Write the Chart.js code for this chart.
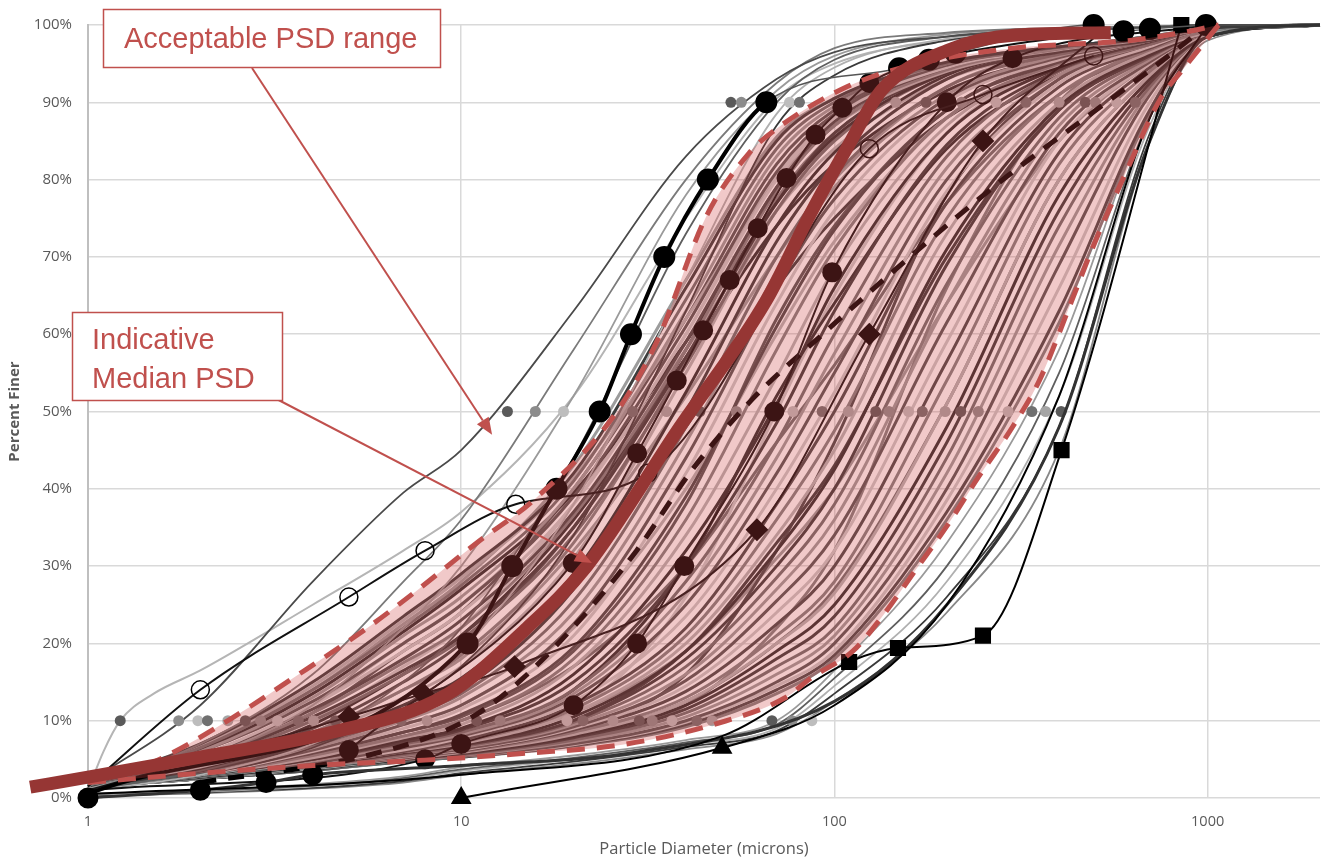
<!DOCTYPE html>
<html>
<head>
<meta charset="utf-8">
<title>Particle size distribution</title>
<script src="https://cdn.jsdelivr.net/npm/chart.js"></script>
<style>
  html, body { margin: 0; padding: 0; background: #fff; }
  canvas { display: block; }
</style>
</head>
<body>
<canvas id="psdChart" width="1325" height="861"></canvas>
<script>
// sieve sizes (microns) shared by the plain grey curves
const sizes = [1, 2, 4, 7, 10, 20, 40, 70, 100, 200, 400, 700, 1000, 2000];
const xTicks = [1, 10, 100, 1000];

// finer samples, left of the acceptable range
const leftCurves = [
  [2, 12, 28, 39.5, 45, 63, 83, 93, 96.5, 98.5, 99.3, 99.7, 100, 100],
  [1.5, 7, 16, 28, 36, 58, 80, 92.5, 97, 99, 99.6, 99.8, 100, 100],
  [1.2, 5, 12, 22, 30, 52, 78, 91.5, 96, 98.8, 99.5, 99.8, 100, 100],
  [1, 3.5, 8, 15, 22, 44, 73, 90, 95.5, 98.5, 99.5, 99.8, 100, 100],
  [1, 3, 7, 13, 19, 38, 67, 88.5, 94.5, 98.2, 99.3, 99.7, 100, 100],
  [1, 3, 6.5, 12, 17, 34, 63, 87, 93.5, 98, 99.2, 99.7, 100, 100]
];
const lightCurveX = [1, 1.1, 1.22, 1.5, 2, 4, 7, 10, 20, 40, 70, 100, 200, 1000];
const lightCurveY = [1, 6, 10, 13.5, 16.5, 25, 32, 37, 52, 75, 90.5, 95, 98, 100];

// samples inside the acceptable range
const bandCurves = [
  [2, 7, 15, 23.5, 29, 42, 66, 85, 90.5, 95.2, 97.2, 98.3, 99.6, 100],
  [2, 6.5, 14, 22, 27.5, 41, 64.5, 84, 90, 95, 97.1, 98.3, 99.6, 100],
  [2, 6, 13, 21, 26, 40, 63, 83, 89.5, 95, 97, 98.3, 99.5, 100],
  [2, 6, 12.5, 20, 25, 39, 61, 81, 88.5, 94.8, 97, 98.3, 99.5, 100],
  [2, 5.5, 12, 19, 24, 38, 60, 80, 88, 94.5, 97, 98.3, 99.5, 100],
  [1.8, 5.5, 11.5, 18, 23, 37, 59, 79, 87.5, 94.5, 97, 98.3, 99.5, 100],
  [1.8, 5.2, 11, 17.5, 22, 36.5, 58, 78.5, 87, 94.2, 96.9, 98.3, 99.5, 100],
  [2, 6.8, 14.5, 23, 28.5, 41.5, 62, 80, 87, 94, 96.8, 98.2, 99.5, 100],
  [2, 6.2, 13.5, 21.5, 27, 39.5, 59, 77, 85.5, 93.8, 96.8, 98.2, 99.5, 100],
  [1.8, 5, 10.5, 16.5, 21, 35, 57, 77, 86, 94, 96.8, 98.2, 99.5, 100],
  [1.8, 4.8, 10, 16, 20.5, 34, 56, 76, 85, 93.8, 96.8, 98.2, 99.5, 100],
  [2, 6.5, 14, 22.5, 28, 43, 67, 85.5, 90.5, 95.2, 97.2, 98.3, 99.6, 100],
  [2, 5, 11, 19, 24, 40, 62, 82, 89, 95, 97, 98.5, 99.5, 100],
  [1.8, 4.8, 10, 17, 22, 38, 60, 80.5, 88, 94.8, 97, 98.5, 99.5, 100],
  [2, 4.5, 9, 15, 20, 35, 58, 79, 87, 94.5, 97, 98.5, 99.5, 100],
  [1.7, 4.2, 8.5, 14, 18.5, 33, 56.5, 77.5, 86, 94.2, 97, 98.5, 99.5, 100],
  [1.8, 4, 8, 13, 17, 31, 55, 76, 85, 94, 97, 98.5, 99.5, 100],
  [1.6, 3.8, 7.5, 12, 15.5, 29, 52.5, 74, 83.5, 93.5, 96.8, 98.2, 99.5, 100],
  [1.5, 3.5, 7, 11, 14, 27, 50, 72, 82, 93, 96.5, 98, 99.5, 100],
  [1.5, 3.5, 6.8, 10.5, 13.5, 25.5, 48, 70, 80.5, 92, 96.2, 98, 99.5, 100],
  [1.5, 3.5, 6.5, 10, 13, 24, 46, 68, 79, 91, 96, 98, 99.5, 100],
  [1.5, 3.2, 6.2, 9.5, 12, 22.5, 44, 66, 77.5, 90.5, 95.8, 98, 99.5, 100],
  [1.5, 3, 6, 9, 11.5, 21, 42, 64, 76, 90, 95.5, 98, 99.5, 100],
  [1.5, 3, 5.8, 8.5, 10.8, 19.5, 39, 61, 73.5, 89, 95.2, 98, 99.5, 100],
  [1.5, 3, 5.5, 8, 10, 18, 36, 58, 71, 88, 95, 98, 99.5, 100],
  [1.5, 3, 5.2, 7.8, 9.5, 17, 34, 54.5, 68.5, 87, 94.8, 98, 99.5, 100],
  [1.5, 3, 5, 7.5, 9, 16, 32, 51, 66, 86, 94.5, 98, 99.5, 100],
  [1.5, 2.9, 5, 7.2, 8.8, 15, 30, 48.5, 63, 84.5, 94.2, 97.8, 99.5, 100],
  [1.5, 3, 5, 7, 8.5, 14, 28, 46, 60, 83, 94, 97.5, 99.5, 100],
  [1.5, 2.9, 4.8, 6.8, 8.2, 13.5, 26.5, 44, 57.5, 81.5, 93.5, 97.5, 99.5, 100],
  [1.5, 2.8, 4.5, 6.5, 8, 13, 25, 42, 55, 80, 93, 97.5, 99.5, 100],
  [1.5, 2.8, 4.5, 6.2, 7.8, 12.5, 23.5, 40, 52.5, 78.5, 92.5, 97.2, 99.5, 100],
  [1.5, 2.8, 4.5, 6, 7.5, 12, 22, 38, 50, 77, 92, 97, 99.5, 100],
  [1.5, 2.8, 4.4, 6, 7.2, 11.5, 21, 36, 47.5, 75, 91, 96.8, 99.2, 100],
  [1.5, 2.8, 4.3, 6, 7, 11, 20, 34, 45, 73, 90, 96.5, 99, 100],
  [1.5, 2.7, 4.2, 5.9, 6.9, 10.5, 19, 32, 42.5, 71, 89.5, 96.2, 99, 100],
  [1.5, 2.7, 4.2, 5.8, 6.8, 10, 18, 30, 40, 69, 89, 96, 99, 100],
  [1.5, 2.7, 4.1, 5.6, 6.6, 9.8, 17, 28.5, 38, 66.5, 88, 95.8, 99, 100],
  [1.5, 2.7, 4, 5.5, 6.5, 9.5, 16, 27, 36, 64, 87, 95.5, 99, 100],
  [1.5, 2.6, 4, 5.4, 6.3, 9.2, 15.2, 25.5, 34, 61.5, 86, 95.2, 99, 100],
  [1.5, 2.6, 4, 5.3, 6.2, 9, 14.5, 24, 32, 59, 85, 95, 99, 100],
  [1.5, 2.6, 3.9, 5.2, 6.1, 8.8, 13.8, 22.5, 30, 56.5, 83.5, 94.5, 99, 100],
  [1.5, 2.6, 3.9, 5.2, 6, 8.5, 13, 21, 28, 54, 82, 94, 99, 100],
  [1.5, 2.5, 3.8, 5.1, 5.9, 8.2, 12.5, 20, 26.5, 51, 80, 93.5, 98.8, 100],
  [1.5, 2.5, 3.8, 5, 5.8, 8, 12, 19, 25, 48, 78, 93, 98.5, 100],
  [1.5, 2.5, 3.7, 5, 5.7, 7.8, 11.5, 18, 23.5, 46, 76, 92.5, 98.5, 100],
  [1.5, 2.5, 3.7, 4.9, 5.6, 7.5, 11, 17, 22, 44, 74, 92, 98.5, 100],
  [1.5, 2.5, 3.7, 4.9, 5.5, 7.3, 10.5, 16, 21, 42, 71.5, 91.5, 98.5, 100],
  [1.5, 2.5, 3.6, 4.8, 5.4, 7, 10, 15, 20, 40, 69, 91, 98.5, 100],
  [1.5, 2.5, 3.6, 4.8, 5.4, 6.9, 9.8, 14.5, 19, 38.5, 66, 90, 98.5, 100],
  [1.5, 2.5, 3.6, 4.7, 5.3, 6.8, 9.5, 14, 18.5, 37, 63, 89, 98.5, 100],
  [1.5, 2.5, 3.6, 4.8, 5.3, 6.7, 9.2, 13.5, 18, 36, 61.5, 88.5, 98.5, 100],
  [1.5, 3.2, 6, 9.5, 12, 22, 40, 60, 72, 88, 95, 98, 99.5, 100],
  [1.5, 2.8, 4.8, 6.8, 8.2, 14, 30, 52, 64, 84, 93.5, 97.5, 99.5, 100],
  [1.5, 2.6, 4.2, 5.6, 6.6, 10, 19, 33, 43, 70, 89, 96, 99, 100],
  [1.5, 2.5, 3.8, 5.1, 5.9, 8.2, 12.5, 20, 27, 51, 80, 93.5, 99, 100],
  [1.8, 4.2, 8.5, 14, 18, 32, 52, 70, 80, 92, 96.5, 98.5, 99.5, 100],
  [1.6, 3.2, 5.8, 8.5, 10.5, 19, 38, 62, 74, 89, 95.5, 98, 99.5, 100],
  [1.5, 2.6, 4, 5.5, 6.5, 11, 26, 50, 65, 86, 95, 98, 99.5, 100],
  [1.5, 2.5, 3.8, 5, 5.8, 8.5, 16, 32, 46, 78, 93, 97.5, 99.5, 100],
  [1.5, 2.5, 3.7, 4.9, 5.5, 7.5, 12, 22, 32, 66, 90, 97, 99.5, 100],
  [2, 5.5, 12, 20, 25, 39, 58, 76, 84, 93, 96.5, 98.5, 99.5, 100],
  [1.8, 4.5, 9.5, 16, 21, 36, 57, 74, 82, 91.5, 96, 98.5, 99.5, 100],
  [1.6, 3.6, 7, 11.5, 15, 28, 48, 66, 75, 88, 94.5, 97.8, 99.5, 100],
  [1.5, 3, 5.5, 8, 10, 17, 30, 46, 56, 77, 91, 96.5, 99.2, 100],
  [1.5, 2.7, 4.3, 6, 7, 11, 19, 31, 40, 64, 85, 95, 99, 100]
];

// coarser samples, right of the acceptable range
const rightCurves = [
  [0.5, 1, 1.8, 2.8, 4, 5.5, 7.5, 10, 16.5, 33, 58, 89, 99, 100],
  [0.5, 0.9, 1.6, 2.6, 3.7, 5.2, 7.2, 9.5, 15.5, 30, 55, 88, 99, 100],
  [0.4, 0.8, 1.5, 2.4, 3.5, 5, 6.9, 9, 14.5, 28, 52, 87, 98.5, 100],
  [0.3, 0.7, 1.3, 2.2, 3.2, 4.7, 6.6, 8.7, 13.5, 26, 48, 86, 98.5, 100],
  [0.3, 0.6, 1.2, 2, 3, 4.4, 6.3, 8.3, 12.5, 24, 45, 85, 98, 100]
];

// acceptable range limits and indicative median
const upperX = [1, 1.3, 1.6, 2.46, 3.49, 5.6, 7.45, 11, 15.6, 25.5, 33.4, 45.3, 59, 71, 108, 161, 300, 620, 850, 1070];
const upperY = [2, 3.5, 5.3, 10.5, 15.3, 22, 26.5, 33, 38.5, 49.3, 59, 75.2, 83.4, 86.8, 92, 94.8, 97, 98, 99, 100];
const lowerX = [1, 2, 4, 8, 15, 27, 49, 74, 87, 112, 132, 165, 199, 243, 300, 354, 433, 490, 605, 750, 850, 1070];
const lowerY = [2, 3.2, 4.2, 4.9, 5.8, 6.9, 9.7, 13, 15.6, 19, 23, 29.5, 35, 41.5, 48, 54, 64.4, 71, 81, 90.6, 94, 100];
const medianX = [0.7, 1, 2, 4.5, 9.1, 15, 21.7, 37.9, 65.7, 85, 109, 134, 203, 306, 550];
const medianY = [1.4, 2.7, 5.3, 8.5, 13.3, 22, 30, 47.5, 64.4, 75, 84.4, 91.6, 96.8, 98.7, 99];

// samples drawn with markers
const boldX = [1, 10.4, 13.7, 18, 23.5, 28.5, 35, 45.8, 65.7, 149, 179, 211, 495, 595, 700, 990];
const boldY = [0.5, 20, 30, 40, 50, 60, 70, 80, 90, 94.4, 95.5, 96.4, 100, 99.2, 99.5, 100];
const baseX = [1, 2, 3, 4, 10, 30, 100, 200, 400, 700, 1000, 2000];
const baseY = [0, 1, 2, 3, 4.2, 6, 12.5, 25, 48, 85, 98.5, 100];
const openX = [1, 2, 5, 8, 14, 31.6, 124, 250, 495];
const openY = [1.5, 14, 26, 32, 38, 42, 84, 91, 96];
const squareX = [1, 10, 50, 109.5, 148, 250, 406, 850];
const squareY = [0.5, 3, 8, 17.6, 19.4, 21, 45, 100];
const triangleX = [10, 50, 100, 200, 400, 700, 1000];
const triangleY = [0, 6.5, 12, 25, 52, 88, 100];
const diamondX = [1, 5, 7.9, 13.9, 62, 124, 250, 500];
const diamondY = [1, 10.5, 13.5, 17, 34.7, 60, 85, 98.5];
const dotAX = [5, 19.9, 29.6, 37.8, 44.5, 52.4, 62.3, 74.4, 89, 105, 124, 200, 300, 500];
const dotAY = [6.2, 30.4, 44.6, 54, 60.5, 67, 73.7, 80.2, 85.8, 89.3, 92.5, 96, 97.5, 99];
const dotBX = [1, 8, 10, 20, 29.6, 39.6, 69, 98.6, 200, 300, 1000];
const dotBY = [1, 5, 7, 12, 20, 30, 50, 68, 90, 95.7, 100];
const dashX = [2, 5.7, 10.1, 13.5, 20.4, 29.5, 41.5, 60, 93, 176, 288, 450, 720, 1000];
const dashY = [2, 5.6, 9.8, 14, 22.6, 32, 42.4, 51.5, 60, 71.8, 80.3, 87.3, 94.6, 100];

// D10 / D50 / D90 sizes of every sample
const d10 = [1.22, 1.75, 1.97, 2.09, 2.37, 2.64, 2.9, 3.22, 3.66, 4.02, 4.6, 4.96, 5.7, 6.9, 8.1, 11, 12.7, 19.2, 21.2, 25.5, 30, 32.5, 36.7, 42.8, 47, 68, 77, 87];
const d50 = [13.3, 15.8, 18.8, 28.8, 35.5, 43.6, 54.6, 77.4, 92.7, 109, 129, 140, 158, 172, 198, 218, 243, 292, 338, 368, 405];
const d90 = [52.8, 56.3, 75.8, 80.6, 146, 176, 219, 271, 326, 400, 470, 500, 570, 640];

// annotation arrow tips (x microns, y %)
const rangeTip = [12.1, 47];
const medianTip = [22.4, 30.4];

const greys = ['#4a4a4a', '#7a7a7a', '#9a9a9a', '#5e5e5e', '#b0b0b0', '#3a3a3a', '#888888'];
const bandGreys = ['#3c3c3c', '#6e6e6e', '#9c9c9c', '#555555', '#c8c8c8', '#484848', '#808080', '#b4b4b4', '#2e2e2e'];
const dotGreys = ['#5a5a5a', '#8c8c8c', '#bdbdbd', '#707070', '#a5a5a5'];

function pts(xs, ys) {
  return xs.map((x, i) => ({ x: x, y: ys[i] }));
}

function line(data, opts) {
  return Object.assign({
    data: data,
    borderColor: '#777',
    borderWidth: 1.5,
    pointRadius: 0,
    cubicInterpolationMode: 'monotone',
    fill: false,
    clip: false
  }, opts);
}

function dots(xs, level) {
  return {
    data: xs.map(x => ({ x: x, y: level })),
    showLine: false,
    pointRadius: 5.5,
    pointBorderWidth: 0,
    pointBackgroundColor: xs.map((x, i) => dotGreys[i % dotGreys.length]),
    clip: false
  };
}

const datasets = [
  line(pts(medianX, medianY), { borderColor: '#963634', borderWidth: 13, borderCapStyle: 'butt' }),
  line(pts(upperX, upperY), { borderColor: '#c0504d', borderWidth: 5, borderDash: [18, 12] }),
  line(pts(lowerX, lowerY), { borderColor: '#c0504d', borderWidth: 5, borderDash: [18, 12],
    fill: '-1', backgroundColor: 'rgba(207,69,69,0.29)' }),
  line(pts(boldX, boldY), {
    borderColor: '#000', borderWidth: 4,
    segment: { borderWidth: c => (c.p0.parsed.x >= 65 ? 1.5 : 4), borderColor: c => (c.p0.parsed.x >= 65 ? '#555' : '#000') },
    pointRadius: boldX.map((x, i) => (i === 0 ? 0 : 9)), pointBackgroundColor: '#000', pointBorderColor: '#000'
  }),
  line(pts(openX, openY), {
    borderColor: '#111', borderWidth: 2,
    pointRadius: openX.map((x, i) => (i === 0 ? 0 : 9)), pointBackgroundColor: 'rgba(0,0,0,0)',
    pointBorderColor: '#000', pointBorderWidth: 1.5
  }),
  line(pts(squareX, squareY), {
    borderColor: '#000', borderWidth: 2, pointStyle: 'rect',
    pointRadius: squareX.map((x, i) => (i < 3 ? 0 : 10)), pointBackgroundColor: '#000', pointBorderColor: '#000'
  }),
  line(pts(triangleX, triangleY), {
    borderColor: '#000', borderWidth: 2, pointStyle: 'triangle',
    pointRadius: triangleX.map((x, i) => (i < 2 ? 10 : 0)), pointBackgroundColor: '#000', pointBorderColor: '#000'
  }),
  line(pts(baseX, baseY), {
    borderColor: '#333', borderWidth: 3,
    pointRadius: baseX.map((x, i) => (i < 4 ? 9 : 0)), pointBackgroundColor: '#000', pointBorderColor: '#000'
  }),
  line(pts(diamondX, diamondY), {
    borderColor: '#111', borderWidth: 2, pointStyle: 'rectRot',
    pointRadius: diamondX.map((x, i) => (i === 0 || i === diamondX.length - 1 ? 0 : 10)),
    pointBackgroundColor: '#000', pointBorderColor: '#000'
  }),
  line(pts(dotAX, dotAY), {
    borderColor: '#111', borderWidth: 2,
    pointRadius: dotAX.map((x, i) => (i > 10 ? 0 : 9)), pointBackgroundColor: '#000', pointBorderColor: '#000'
  }),
  line(pts(dotBX, dotBY), {
    borderColor: '#111', borderWidth: 2,
    pointRadius: dotBX.map((x, i) => (i === 0 || i === dotBX.length - 1 ? 0 : 9)), pointBackgroundColor: '#000', pointBorderColor: '#000'
  }),
  line(pts(dashX, dashY), { borderColor: '#000', borderWidth: 5, borderDash: [16, 12] }),
  dots(d10, 10),
  dots(d50, 50),
  dots(d90, 90)
];

leftCurves.forEach((c, i) => datasets.push(line(pts(sizes, c), { borderColor: greys[i % greys.length], borderWidth: 1.8 })));
datasets.push(line(pts(lightCurveX, lightCurveY), { borderColor: '#b5b5b5', borderWidth: 2 }));
bandCurves.forEach((c, i) => datasets.push(line(pts(sizes, c), { borderColor: bandGreys[i % bandGreys.length], borderWidth: 3 })));
rightCurves.forEach((c, i) => datasets.push(line(pts(sizes, c), { borderColor: greys[(i + 2) % greys.length], borderWidth: 1.8 })));

function arrow(ctx, x0, y0, x1, y1) {
  const a = Math.atan2(y1 - y0, x1 - x0);
  const len = 17, half = 7;
  const bx = x1 - len * Math.cos(a), by = y1 - len * Math.sin(a);
  ctx.beginPath();
  ctx.moveTo(x0, y0);
  ctx.lineTo(bx, by);
  ctx.stroke();
  ctx.beginPath();
  ctx.moveTo(x1, y1);
  ctx.lineTo(bx + half * Math.sin(a), by - half * Math.cos(a));
  ctx.lineTo(bx - half * Math.sin(a), by + half * Math.cos(a));
  ctx.closePath();
  ctx.fill();
}

function box(ctx, x, y, w, h, lines) {
  ctx.fillStyle = '#fff';
  ctx.fillRect(x, y, w, h);
  ctx.strokeRect(x, y, w, h);
  ctx.fillStyle = '#c0504d';
  lines.forEach(t => ctx.fillText(t[0], t[1], t[2]));
}

const calloutPlugin = {
  id: 'callouts',
  afterDatasetsDraw(chart) {
    const ctx = chart.ctx;
    const x = chart.scales.x, y = chart.scales.y;
    ctx.save();
    ctx.strokeStyle = '#c0504d';
    ctx.fillStyle = '#c0504d';
    ctx.lineWidth = 2;
    arrow(ctx, 252, 68, x.getPixelForValue(rangeTip[0]), y.getPixelForValue(rangeTip[1]));
    arrow(ctx, 267, 394, x.getPixelForValue(medianTip[0]), y.getPixelForValue(medianTip[1]));
    ctx.lineWidth = 1.5;
    ctx.font = '29px "Liberation Sans", Arial, sans-serif';
    ctx.textBaseline = 'alphabetic';
    box(ctx, 103.5, 9.5, 337, 58, [['Acceptable PSD range', 124, 48]]);
    box(ctx, 72.5, 312.5, 210, 88, [['Indicative', 92, 349], ['Median PSD', 92, 388]]);
    ctx.restore();
  }
};

new Chart(document.getElementById('psdChart'), {
  type: 'line',
  data: { datasets: datasets },
  options: {
    responsive: false,
    animation: false,
    events: [],
    layout: { autoPadding: false, padding: { top: 25, right: 5, left: 0, bottom: 0 } },
    plugins: {
      legend: { display: false },
      tooltip: { enabled: false }
    },
    scales: {
      x: {
        type: 'logarithmic',
        min: 1,
        max: 2000,
        afterBuildTicks: s => { s.ticks = xTicks.map(v => ({ value: v })); },
        afterFit: s => { s.height = 63; s.paddingLeft = 0; s.paddingRight = 0; },
        ticks: {
          color: '#595959',
          font: { family: '"Open Sans", sans-serif', size: 14.5 },
          padding: 15,
          autoSkip: false,
          maxRotation: 0,
          callback: v => String(v)
        },
        grid: { color: '#d9d9d9', lineWidth: 1.5, drawTicks: false },
        border: { display: false },
        title: {
          display: true,
          text: 'Particle Diameter (microns)',
          color: '#595959',
          font: { family: '"Open Sans", sans-serif', size: 16.5 },
          padding: { top: 0, bottom: 2 }
        }
      },
      y: {
        min: 0,
        max: 100,
        afterFit: s => { s.width = 88; },
        ticks: {
          stepSize: 10,
          color: '#595959',
          font: { family: '"Open Sans", sans-serif', size: 15 },
          padding: 16,
          callback: v => v + '%'
        },
        grid: { color: '#d9d9d9', lineWidth: 1.5, drawTicks: false },
        border: { display: true, color: '#bfbfbf', width: 2 },
        title: {
          display: true,
          text: 'Percent Finer',
          color: '#595959',
          font: { family: '"Open Sans", sans-serif', size: 15, weight: 'bold' },
          padding: { top: 6, bottom: 0 }
        }
      }
    }
  },
  plugins: [calloutPlugin]
});
</script>
</body>
</html>
